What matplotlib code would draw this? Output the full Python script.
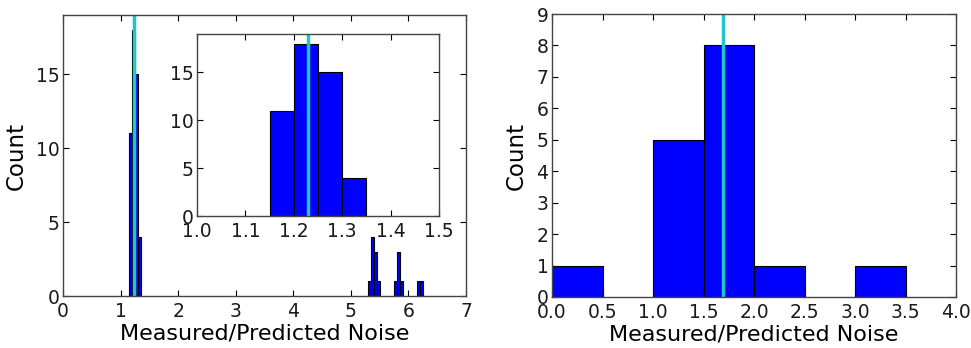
import numpy as np
import matplotlib
matplotlib.use("Agg")
import matplotlib.pyplot as plt

# per-source noise ratio histogram (bin width 0.05)
left_edges = np.array([1.15, 1.20, 1.25, 1.30,
                       5.30, 5.35, 5.40, 5.45,
                       5.75, 5.80, 5.85,
                       6.15, 6.20])
left_counts = np.array([11, 18, 15, 4,
                        1, 4, 3, 1,
                        1, 3, 1,
                        1, 1])
left_width = 0.05
left_median = 1.23

# combined histogram (bin width 0.5)
right_edges = np.array([0.0, 1.0, 1.5, 2.0, 3.0])
right_counts = np.array([1, 5, 8, 1, 1])
right_width = 0.5
right_median = 1.69

plt.rcParams['font.family'] = 'DejaVu Sans'
plt.rcParams['xtick.direction'] = 'in'
plt.rcParams['ytick.direction'] = 'in'
plt.rcParams['xtick.top'] = True
plt.rcParams['ytick.right'] = True
plt.rcParams['xtick.major.size'] = 4
plt.rcParams['ytick.major.size'] = 4
plt.rcParams['xtick.major.pad'] = 4
plt.rcParams['ytick.major.pad'] = 2.5
plt.rcParams['axes.linewidth'] = 1.0
plt.rcParams['axes.edgecolor'] = '#444444'

fig = plt.figure(figsize=(9.71, 3.48), dpi=100)
W, H = 971.0, 348.0

def px_axes(x0, y0, x1, y1):
    return fig.add_axes([x0 / W, 1 - y1 / H, (x1 - x0) / W, (y1 - y0) / H])

def style(ax):
    ax.tick_params(labelsize=13.5)
    for lab in ax.get_xticklabels() + ax.get_yticklabels():
        lab.set_color('#1a1a1a')

# left panel
ax1 = px_axes(63, 15, 466, 296)
ax1.bar(left_edges, left_counts, width=left_width, align='edge',
        color='#0000ff', edgecolor='black', linewidth=0.8)
ax1.axvline(left_median, color='#1ec8c8', linewidth=2.5)
ax1.set_xlim(0, 7)
ax1.set_ylim(0, 19)
ax1.set_yticks([0, 5, 10, 15])
ax1.set_xlabel('Measured/Predicted Noise', fontsize=16, labelpad=2)
ax1.set_ylabel('Count', fontsize=16.5, labelpad=6)
style(ax1)

# zoomed inset around the main peak
ins = px_axes(197, 34, 439, 216)
ins.bar(left_edges, left_counts, width=left_width, align='edge',
        color='#0000ff', edgecolor='black', linewidth=0.8)
ins.axvline(left_median, color='#1ec8c8', linewidth=2.5)
ins.set_xlim(1.0, 1.5)
ins.set_ylim(0, 19)
ins.set_yticks([0, 5, 10, 15])
ins.set_xticks([1.0, 1.1, 1.2, 1.3, 1.4, 1.5])
ins.xaxis.set_major_formatter(matplotlib.ticker.FormatStrFormatter('%.1f'))
style(ins)

# right panel
ax2 = px_axes(552, 14, 956, 297)
ax2.bar(right_edges, right_counts, width=right_width, align='edge',
        color='#0000ff', edgecolor='black', linewidth=0.8)
ax2.axvline(right_median, color='#1ec8c8', linewidth=2.5)
ax2.set_xlim(0, 4)
ax2.set_ylim(0, 9)
ax2.set_yticks(range(10))
ax2.set_xticks(np.arange(0, 4.01, 0.5))
ax2.xaxis.set_major_formatter(matplotlib.ticker.FormatStrFormatter('%.1f'))
ax2.set_xlabel('Measured/Predicted Noise', fontsize=16, labelpad=2)
ax2.set_ylabel('Count', fontsize=16.5, labelpad=6)
style(ax2)

fig.savefig('out.png', dpi=100, facecolor='white')
